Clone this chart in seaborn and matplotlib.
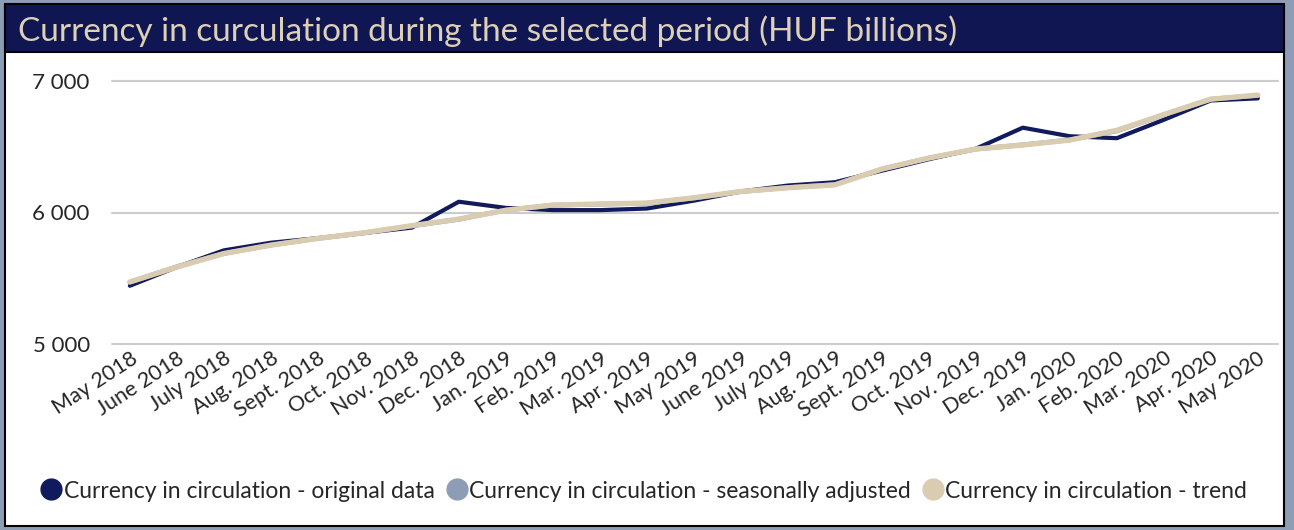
import pandas as pd
import matplotlib.pyplot as plt
import seaborn as sns
from matplotlib.patches import Rectangle
from matplotlib.lines import Line2D
from matplotlib.ticker import FuncFormatter

# Chart data (HUF billions)
months = ["May 2018", "June 2018", "July 2018", "Aug. 2018", "Sept. 2018", "Oct. 2018",
          "Nov. 2018", "Dec. 2018", "Jan. 2019", "Feb. 2019", "Mar. 2019", "Apr. 2019",
          "May 2019", "June 2019", "July 2019", "Aug. 2019", "Sept. 2019", "Oct. 2019",
          "Nov. 2019", "Dec. 2019", "Jan. 2020", "Feb. 2020", "Mar. 2020", "Apr. 2020",
          "May 2020"]
original = [5443, 5585, 5712, 5770, 5805, 5845, 5885, 6082, 6035, 6018, 6018, 6030,
            6090, 6160, 6205, 6230, 6318, 6405, 6485, 6645, 6580, 6565, 6705, 6852, 6868]
seasonal = [5470, 5588, 5688, 5752, 5803, 5845, 5898, 5948, 6018, 6055, 6063, 6070,
            6110, 6158, 6190, 6212, 6330, 6414, 6482, 6515, 6552, 6620, 6743, 6862, 6890]
trend = [5472, 5585, 5688, 5752, 5803, 5847, 5900, 5950, 6017, 6057, 6065, 6072,
         6112, 6160, 6188, 6210, 6330, 6414, 6483, 6513, 6551, 6625, 6745, 6862, 6893]

labels = ["Currency in circulation - original data",
          "Currency in circulation - seasonally adjusted",
          "Currency in circulation - trend"]
colors = ["#111a5c", "#8d9db5", "#d9ccb0"]
widths = [3.0, 3.4, 3.8]

df = pd.DataFrame({"month": months * 3,
                   "value": original + seasonal + trend,
                   "series": [labels[0]] * 25 + [labels[1]] * 25 + [labels[2]] * 25})

sns.set_style("white")
plt.rcParams["font.family"] = ["Lato", "DejaVu Sans"]

W, H = 1294, 530
fig = plt.figure(figsize=(W / 100, H / 100), dpi=100)
fig.patch.set_facecolor("#8d9db5")

# white panel with black edge, and navy title bar
fig.patches.append(Rectangle((5 / W, 4 / H), 1279 / W, 521 / H, transform=fig.transFigure,
                             facecolor="white", edgecolor="black", linewidth=1.5, zorder=-10))
fig.patches.append(Rectangle((5 / W, 1 - 52 / H), 1279 / W, 48 / H, transform=fig.transFigure,
                             facecolor="#0f1652", edgecolor="black", linewidth=1.5, zorder=-9))
fig.text(18 / W, 1 - 31 / H, "Currency in curculation during the selected period (HUF billions)",
         color="#ddd0b5", fontsize=24, va="center", ha="left")

ax = fig.add_axes([112 / W, 1 - 344 / H, (1278 - 112) / W, (344 - 81) / H])
ax.set_facecolor("none")

for lab, col, lw in zip(labels, colors, widths):
    sns.lineplot(data=df[df["series"] == lab], x="month", y="value", color=col,
                 linewidth=lw, sort=False, ax=ax, legend=False)

ax.set_ylim(5000, 7000)
ax.set_xlim(-0.38, 24.43)
ax.set_yticks([5000, 6000, 7000])
ax.yaxis.set_major_formatter(FuncFormatter(lambda v, p: f"{int(v):,}".replace(",", " ")))
ax.grid(axis="y", color="#cccccc", linewidth=1.5)
for gl in ax.get_ygridlines():
    gl.set_clip_on(False)
ax.set_axisbelow(True)
for s in ax.spines.values():
    s.set_visible(False)
ax.set_xlabel("")
ax.set_ylabel("")
ax.tick_params(axis="y", labelsize=16, pad=16, length=0)
ax.tick_params(axis="x", labelsize=15.5, length=0, pad=3)
plt.setp(ax.get_xticklabels(), rotation=33, ha="right", rotation_mode="anchor")

handles = [Line2D([], [], marker="o", linestyle="none", markersize=15,
                  markerfacecolor=c, markeredgecolor=c) for c in colors]
fig.legend(handles, labels, loc="center", bbox_to_anchor=(0.497, 1 - 491 / H), ncol=3,
           frameon=False, fontsize=16.5, handletextpad=0.0, columnspacing=0.4,
           handlelength=1.1)

fig.savefig("out.png", dpi=100, facecolor=fig.get_facecolor())
